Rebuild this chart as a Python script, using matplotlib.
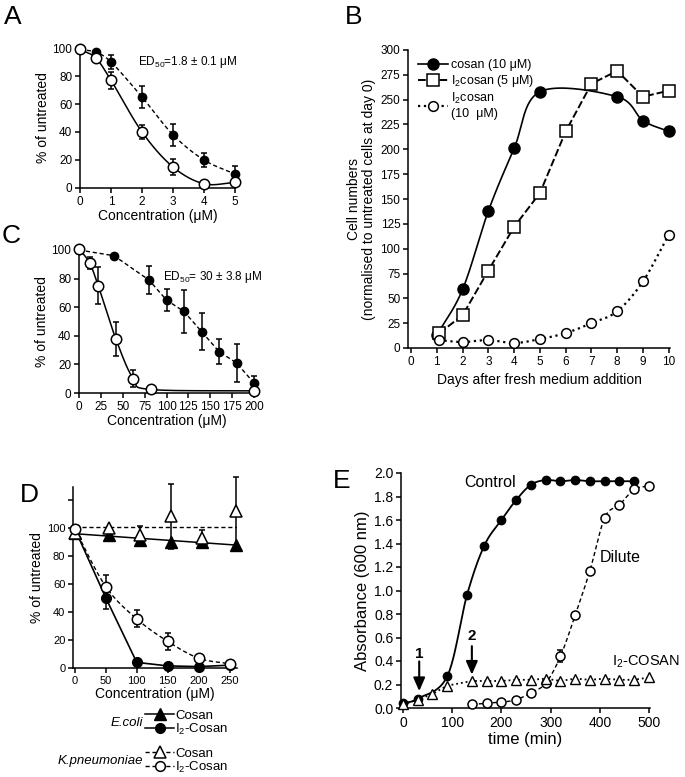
import numpy as np
import matplotlib
matplotlib.use("Agg")
import matplotlib.pyplot as plt
from matplotlib.lines import Line2D

plt.rcParams['font.family'] = ['Liberation Sans', 'DejaVu Sans']
plt.rcParams['mathtext.fontset'] = 'custom'
plt.rcParams['mathtext.rm'] = 'Liberation Sans'
plt.rcParams['mathtext.it'] = 'Liberation Sans:italic'
plt.rcParams['mathtext.bf'] = 'Liberation Sans:bold'
plt.rcParams['axes.linewidth'] = 1.1
plt.rcParams['xtick.major.width'] = 1.1
plt.rcParams['ytick.major.width'] = 1.1
plt.rcParams['xtick.major.size'] = 3.5
plt.rcParams['ytick.major.size'] = 3.5

# ---- panel A (ED50 1.8 uM)
a_conc = [0, 0.5, 1, 2, 3, 4, 5]
a_open = [99, 93, 77, 40, 15, 3, 4]
a_open_err = [0, 0, 6, 5, 6, 0, 0]
a_fill = [99, 97, 90, 65, 38, 20, 10]
a_fill_err = [0, 0, 5, 8, 8, 5, 6]

# ---- panel B (cell growth)
b_cosan_days = [1, 2, 3, 4, 5, 8, 9, 10]
b_cosan = [13, 59, 138, 201, 258, 253, 229, 218]
b_sq_days = [1.1, 2, 3, 4, 5, 6, 7, 8, 9, 10]
b_i2_5 = [15, 33, 78, 122, 156, 218, 266, 279, 253, 259]
b_circ_days = [1.07, 2, 3, 4, 5, 6, 7, 8, 9, 10]
b_i2_10 = [8, 6, 8, 5, 9, 15, 25, 37, 67, 114]

# ---- panel C (ED50 30 uM)
c_conc_open = [0, 12, 22, 42, 62, 82, 200]
c_open = [101, 91, 75, 38, 10, 2.5, 1.5]
c_open_err = [0, 4, 13, 12, 6, 0, 0]
c_conc_fill = [0, 40, 80, 100, 120, 140, 160, 180, 200]
c_fill = [100, 96, 79, 65, 57, 43, 29, 21, 7]
c_fill_err = [0, 0, 10, 8, 15, 13, 9, 13, 5]

# ---- panel D (bacteria)
d_conc = [0, 50, 100, 150, 200, 250]
d_tri_conc = [0, 55, 105, 155, 205, 260]
d_ec_cosan = [96, 95, 91, 90, 90, 88]
d_ec_i2 = [99, 50, 4, 1.5, 1, 2]
d_ec_i2_err = [0, 8, 0, 0, 0, 0]
d_kp_cosan = [96, 100, 95, 108, 93, 112]
d_kp_cosan_err = [0, 0, 6, 23, 5, 24]
d_kp_i2 = [99, 58, 35, 19, 7, 3]
d_kp_i2_err = [0, 8, 6, 6, 0, 0]

# ---- panel E (absorbance)
e_ctrl_t = [0, 30, 90, 130, 165, 200, 230, 260, 290, 320, 350, 380, 410, 440, 470]
e_ctrl = [0.04, 0.08, 0.27, 0.96, 1.38, 1.60, 1.77, 1.90, 1.94, 1.93, 1.94, 1.93, 1.93, 1.93, 1.93]
e_dil_t = [140, 170, 200, 230, 260, 290, 320, 350, 380, 410, 440, 470, 500]
e_dil = [0.03, 0.04, 0.05, 0.07, 0.13, 0.21, 0.44, 0.79, 1.17, 1.62, 1.73, 1.86, 1.89]
e_dil_err = [0, 0, 0, 0, 0, 0, 0.05, 0, 0, 0, 0, 0, 0]
e_i2_t = [0, 30, 60, 90, 140, 170, 200, 230, 260, 290, 320, 350, 380, 410, 440, 470, 500]
e_i2 = [0.03, 0.07, 0.12, 0.19, 0.23, 0.23, 0.23, 0.24, 0.24, 0.25, 0.23, 0.25, 0.24, 0.25, 0.24, 0.24, 0.26]


def smooth(x, y, n=24):
    # catmull-rom through the points, just for drawing the curve
    p = np.column_stack([x, y]).astype(float)
    p = np.vstack([2 * p[0] - p[1], p, 2 * p[-1] - p[-2]])
    out = []
    for i in range(1, len(p) - 2):
        p0, p1, p2, p3 = p[i - 1], p[i], p[i + 1], p[i + 2]
        t = np.linspace(0, 1, n)[:, None]
        seg = 0.5 * (2 * p1 + (-p0 + p2) * t + (2 * p0 - 5 * p1 + 4 * p2 - p3) * t ** 2
                     + (-p0 + 3 * p1 - 3 * p2 + p3) * t ** 3)
        out.append(seg)
    out = np.vstack(out)
    return out[:, 0], out[:, 1]


W, H = 685, 777
fig = plt.figure(figsize=(W / 100, H / 100), dpi=100)


def box(l, t, r, b):
    return fig.add_axes([l / W, 1 - b / H, (r - l) / W, (b - t) / H])


def style(ax, size):
    ax.spines['top'].set_visible(False)
    ax.spines['right'].set_visible(False)
    ax.tick_params(labelsize=size, pad=2)


open_c = dict(marker='o', mfc='white', mec='black', mew=1.1, color='black')
fill_c = dict(marker='o', mfc='black', mec='black', color='black')
eb = dict(fmt='none', ecolor='black', elinewidth=1.1, capsize=2.5, capthick=1.1, clip_on=False)

# ================= A
ax = box(80, 48, 235, 188)
style(ax, 8.5)
x, y = smooth(a_conc, a_fill)
ax.plot(x, y, 'k--', lw=1.0, dashes=(3, 2))
x, y = smooth(a_conc, a_open)
ax.plot(x, y, 'k-', lw=1.1)
ax.errorbar(a_conc, a_fill, yerr=a_fill_err, **eb)
ax.errorbar(a_conc, a_open, yerr=a_open_err, **eb)
ax.plot(a_conc, a_fill, ls='none', ms=6, clip_on=False, zorder=3, **fill_c)
ax.plot(a_conc, a_open, ls='none', ms=7.5, clip_on=False, zorder=4, **open_c)
ax.set_xlim(0, 5)
ax.set_ylim(0, 100)
ax.set_xticks(range(6))
ax.set_yticks(range(0, 101, 20))
ax.set_xlabel('Concentration (μM)', fontsize=10, labelpad=1)
ax.set_ylabel('% of untreated', fontsize=10, labelpad=2)
ax.text(1.87, 90, 'ED$_{50}$=1.8 ± 0.1 μM', fontsize=8.5, va='center')
fig.text(4 / W, 1 - 24 / H, 'A', fontsize=19)

# ================= C
ax = box(79, 250, 254, 393)
style(ax, 8.5)
ax.plot(c_conc_fill, c_fill, 'k--', lw=1.0, dashes=(3, 2))
x, y = smooth(c_conc_open, c_open)
ax.plot(x, y, 'k-', lw=1.1)
ax.errorbar(c_conc_fill, c_fill, yerr=c_fill_err, **eb)
ax.errorbar(c_conc_open, c_open, yerr=c_open_err, **eb)
ax.plot(c_conc_fill, c_fill, ls='none', ms=6, clip_on=False, zorder=3, **fill_c)
ax.plot(c_conc_open, c_open, ls='none', ms=7.5, clip_on=False, zorder=4, **open_c)
ax.set_xlim(0, 200)
ax.set_ylim(0, 100)
ax.set_xticks(range(0, 201, 25))
ax.set_yticks(range(0, 101, 20))
ax.set_xlabel('Concentration (μM)', fontsize=10, labelpad=1)
ax.set_ylabel('% of untreated', fontsize=10, labelpad=2)
ax.text(96, 81, 'ED$_{50}$= 30 ± 3.8 μM', fontsize=8.5, va='center')
fig.text(2 / W, 1 - 243 / H, 'C', fontsize=19)

# ================= B
ax = box(408, 50, 670, 348)
style(ax, 8.5)
x, y = smooth(b_cosan_days, b_cosan)
ax.plot(x, y, 'k-', lw=1.2)
ax.plot(b_sq_days, b_i2_5, 'k--', lw=1.4, dashes=(4, 1.5))
x, y = smooth(b_circ_days, b_i2_10)
ax.plot(x, y, 'k:', lw=1.6)
ax.plot(b_cosan_days, b_cosan, ls='none', ms=8, clip_on=False, zorder=3, **fill_c)
ax.plot(b_sq_days, b_i2_5, ls='none', marker='s', ms=9, mfc='white', mec='black',
        mew=1.1, clip_on=False, zorder=4)
ax.plot(b_circ_days, b_i2_10, ls='none', ms=7, clip_on=False, zorder=4, **open_c)
ax.set_xlim(-0.12, 10.05)
ax.set_ylim(0, 300)
ax.set_xticks(range(11))
ax.set_yticks(range(0, 301, 25))
ax.set_xlabel('Days after fresh medium addition', fontsize=10, labelpad=4)
ax.set_ylabel('Cell numbers\n(normalised to untreated cells at day 0)', fontsize=10,
              labelpad=3, linespacing=1.1)
hb = [Line2D([], [], color='black', lw=1.2, marker='o', ms=8, mfc='black'),
      Line2D([], [], color='black', lw=1.4, ls='--', dashes=(4, 1.5), marker='s', ms=9,
             mfc='white', mew=1.1),
      Line2D([], [], color='black', lw=1.6, ls=':', marker='o', ms=7, mfc='white', mew=1.1)]
ax.legend(hb, ['cosan (10 μM)', 'I$_2$cosan (5 μM)', 'I$_2$cosan\n(10  μM)'],
          loc='upper left', bbox_to_anchor=(0.02, 0.985), frameon=False, fontsize=9,
          handlelength=2.4, handletextpad=0.25, labelspacing=0.15, borderaxespad=0)
fig.text(345 / W, 1 - 24 / H, 'B', fontsize=19)

# ================= D
ax = box(73, 487, 237, 668)
style(ax, 8)
xf = np.array([0, 262])
k = np.polyfit(d_tri_conc, d_ec_cosan, 1)
ax.plot(xf, np.polyval(k, xf), 'k-', lw=1.1)
ax.plot(xf, [np.mean(d_kp_cosan)] * 2, 'k--', lw=1.0, dashes=(3, 2))
ax.plot(d_conc, d_ec_i2, 'k-', lw=1.2)
x, y = smooth(d_conc, d_kp_i2)
ax.plot(x, y, 'k--', lw=1.0, dashes=(3, 2))
ax.errorbar(d_tri_conc, d_kp_cosan, yerr=d_kp_cosan_err, **eb)
ax.errorbar(d_conc, d_ec_i2, yerr=d_ec_i2_err, **eb)
ax.errorbar(d_conc, d_kp_i2, yerr=d_kp_i2_err, **eb)
ax.plot(d_tri_conc, d_ec_cosan, ls='none', marker='^', ms=8, mfc='black', mec='black',
        clip_on=False, zorder=3)
ax.plot(d_conc, d_ec_i2, ls='none', ms=7, clip_on=False, zorder=3, **fill_c)
ax.plot(d_tri_conc, d_kp_cosan, ls='none', marker='^', ms=9, mfc='white', mec='black',
        mew=1.1, clip_on=False, zorder=4)
ax.plot(d_conc, d_kp_i2, ls='none', ms=7.5, clip_on=False, zorder=4, **open_c)
ax.set_xlim(-3, 262)
ax.set_ylim(0, 129)
ax.set_xticks(range(0, 251, 50))
ax.set_yticks(range(0, 121, 20))
ax.set_yticklabels(['0', '20', '40', '60', '80', '100', ''])
ax.set_xlabel('Concentration (μM)', fontsize=10, labelpad=1)
ax.set_ylabel('% of untreated', fontsize=10, labelpad=2)
fig.text(20 / W, 1 - 502 / H, 'D', fontsize=19)

h_ec = [Line2D([], [], color='black', lw=1.1, marker='^', ms=8, mfc='black'),
        Line2D([], [], color='black', lw=1.1, marker='o', ms=7, mfc='black')]
h_kp = [Line2D([], [], color='black', lw=1.0, ls='--', dashes=(3, 2), marker='^', ms=8,
               mfc='white', mew=1.1),
        Line2D([], [], color='black', lw=1.0, ls='--', dashes=(3, 2), marker='o', ms=7,
               mfc='white', mew=1.1)]
lg = dict(frameon=False, fontsize=9.5, handlelength=2.2, handletextpad=0.1,
          labelspacing=0.0, borderaxespad=0, borderpad=0, loc='center left')
fig.legend(h_ec, ['Cosan', 'I$_2$-Cosan'], bbox_to_anchor=(145 / W, 1 - 723 / H), **lg)
fig.legend(h_kp, ['Cosan', 'I$_2$-Cosan'], bbox_to_anchor=(145 / W, 1 - 761 / H), **lg)
fig.text(143 / W, 1 - 723 / H, 'E.coli', fontsize=9.5, style='italic', ha='right', va='center')
fig.text(143 / W, 1 - 761 / H, 'K.pneumoniae', fontsize=9.5, style='italic', ha='right',
         va='center')

# ================= E
ax = box(401, 473, 650, 708)
style(ax, 10)
x, y = smooth(e_ctrl_t, e_ctrl)
ax.plot(x, y, 'k-', lw=1.3)
x, y = smooth(e_dil_t, e_dil)
ax.plot(x, y, 'k--', lw=1.0, dashes=(3, 2))
ax.plot(e_i2_t, e_i2, 'k:', lw=1.3)
ax.errorbar(e_dil_t, e_dil, yerr=e_dil_err, **eb)
ax.plot(e_ctrl_t, e_ctrl, ls='none', ms=6, clip_on=False, zorder=3, **fill_c)
ax.plot(e_dil_t, e_dil, ls='none', ms=6.5, clip_on=False, zorder=4, **open_c)
ax.plot(e_i2_t, e_i2, ls='none', marker='^', ms=7.5, mfc='white', mec='black', mew=1.0,
        clip_on=False, zorder=4)
ax.set_xlim(-4, 502)
ax.set_ylim(0, 2.0)
ax.set_xticks(range(0, 501, 100))
ax.set_yticks(np.arange(0, 2.01, 0.2))
ax.set_yticklabels(['%.1f' % v for v in np.arange(0, 2.01, 0.2)])
ax.set_xlabel('time (min)', fontsize=12, labelpad=2)
ax.set_ylabel('Absorbance (600 nm)', fontsize=12, labelpad=3)
arr = dict(arrowstyle='-|>,head_width=0.35,head_length=0.8', color='black', lw=1.5)
ax.annotate('', xy=(33, 0.12), xytext=(33, 0.42), arrowprops=arr)
ax.annotate('', xy=(140, 0.26), xytext=(140, 0.55), arrowprops=arr)
ax.text(33, 0.46, '1', fontsize=11, fontweight='bold', ha='center', va='center')
ax.text(140, 0.61, '2', fontsize=11, fontweight='bold', ha='center', va='center')
ax.text(177, 1.92, 'Control', fontsize=11.5, ha='center', va='center')
ax.text(441, 1.28, 'Dilute', fontsize=11.5, ha='center', va='center')
fig.text(680 / W, 1 - 662 / H, 'I$_2$-COSAN', fontsize=10.5, ha='right', va='center')
fig.text(333 / W, 1 - 488 / H, 'E', fontsize=19)

fig.savefig('out.png', dpi=100)
